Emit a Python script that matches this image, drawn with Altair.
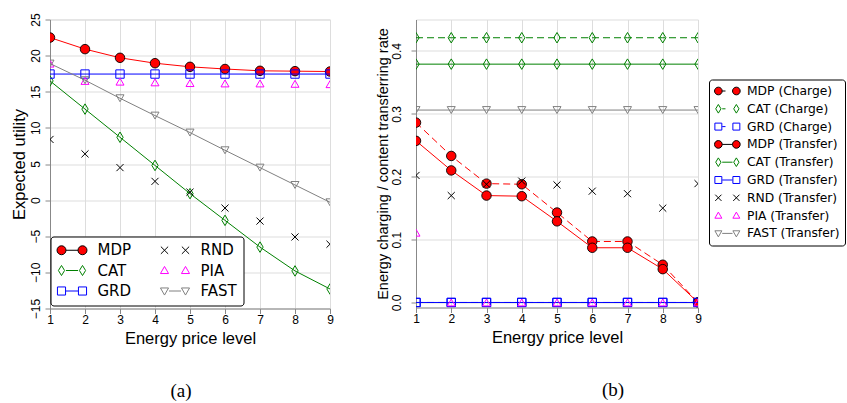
import altair as alt
import pandas as pd

levels = [1, 2, 3, 4, 5, 6, 7, 8, 9]

# ---- panel (a): expected utility ----
utility_mdp = [22.5, 20.9, 19.7, 18.95, 18.45, 18.15, 17.9, 17.85, 17.8]
utility_cat = [16.5, 12.6, 8.7, 4.8, 0.9, -2.8, -6.5, -9.8, -12.3]
utility_grd = [17.45, 17.45, 17.45, 17.45, 17.45, 17.45, 17.45, 17.45, 17.45]
utility_rnd = [8.4, 6.4, 4.5, 2.6, 1.1, -1.1, -2.9, -5.1, -6.1]
utility_pia = [18.9, 16.5, 16.4, 16.3, 16.2, 16.15, 16.15, 16.1, 16.05]
utility_fast = [18.9, 16.6, 14.1, 11.7, 9.35, 6.9, 4.5, 2.1, -0.3]

# ---- panel (b): charging / transferring rate ----
rate_mdp_charge = [0.286, 0.233, 0.189, 0.188, 0.143, 0.097, 0.097, 0.060, 0.0]
rate_cat_charge = [0.421, 0.421, 0.421, 0.421, 0.421, 0.421, 0.421, 0.421, 0.421]
rate_grd_charge = [0.0, 0.0, 0.0, 0.0, 0.0, 0.0, 0.0, 0.0, 0.0]
rate_mdp_transfer = [0.257, 0.210, 0.170, 0.169, 0.129, 0.087, 0.087, 0.053, 0.0]
rate_cat_transfer = [0.379, 0.379, 0.379, 0.379, 0.379, 0.379, 0.379, 0.379, 0.379]
rate_grd_transfer = [0.0, 0.0, 0.0, 0.0, 0.0, 0.0, 0.0, 0.0, 0.0]
rate_rnd_transfer = [0.202, 0.170, 0.188, 0.193, 0.187, 0.177, 0.173, 0.150, 0.189]
rate_pia_transfer = [0.111, 0.0, 0.0, 0.0, 0.0, 0.0, 0.0, 0.0, 0.0]
rate_fast_transfer = [0.306, 0.306, 0.306, 0.306, 0.306, 0.306, 0.306, 0.306, 0.306]

utility_series = {
    "MDP": utility_mdp, "CAT": utility_cat, "GRD": utility_grd,
    "RND": utility_rnd, "PIA": utility_pia, "FAST": utility_fast,
}
rate_series = {
    "MDP (Charge)": rate_mdp_charge, "CAT (Charge)": rate_cat_charge,
    "GRD (Charge)": rate_grd_charge, "MDP (Transfer)": rate_mdp_transfer,
    "CAT (Transfer)": rate_cat_transfer, "GRD (Transfer)": rate_grd_transfer,
    "RND (Transfer)": rate_rnd_transfer, "PIA (Transfer)": rate_pia_transfer,
    "FAST (Transfer)": rate_fast_transfer,
}


def long_df(series):
    rows = []
    for name, vals in series.items():
        for lv, v in zip(levels, vals):
            rows.append({"level": lv, "value": v, "series": name})
    return pd.DataFrame(rows)


df_a = long_df(utility_series)
df_b = long_df(rate_series)

# ---- styles ----
THIN_DIAMOND = "M0,-1L0.6,0L0,1L-0.6,0Z"
X_MARK = "M-1,-1L1,1M-1,1L1,-1"
STYLE = {
    "MDP": dict(line="#ff0000", shape="circle", size=90, fill="#ff0000", stroke="#000000", has_line=True),
    "CAT": dict(line="#008000", shape=THIN_DIAMOND, size=110, fill=None, stroke="#008000", has_line=True),
    "GRD": dict(line="#0000ff", shape="square", size=70, fill=None, stroke="#0000ff", has_line=True),
    "RND": dict(line="#000000", shape=X_MARK, size=50, fill=None, stroke="#000000", has_line=False),
    "PIA": dict(line="#ff00ff", shape="triangle-up", size=64, fill=None, stroke="#ff00ff", has_line=False),
    "FAST": dict(line="#808080", shape="triangle-down", size=64, fill=None, stroke="#808080", has_line=True),
}

# legend glyph geometry (unit = sqrt(symbolSize)/2 px)
C0 = 1.143   # glyph centre offset
HALF = 1.5   # half distance between the two markers
MR = 0.64    # marker radius


def legend_marker(kind, cx):
    if kind == "MDP":
        r = MR
        return f"M{cx - r:.3f},0A{r},{r} 0 1,0 {cx + r:.3f},0A{r},{r} 0 1,0 {cx - r:.3f},0Z"
    if kind == "CAT":
        h, w = 0.72, 0.44
        return f"M{cx:.3f},{-h}L{cx + w:.3f},0L{cx:.3f},{h}L{cx - w:.3f},0Z"
    if kind == "GRD":
        s = 0.58
        return f"M{cx - s:.3f},{-s}L{cx + s:.3f},{-s}L{cx + s:.3f},{s}L{cx - s:.3f},{s}Z"
    if kind == "RND":
        s = 0.52
        return f"M{cx - s:.3f},{-s}L{cx + s:.3f},{s}M{cx - s:.3f},{s}L{cx + s:.3f},{-s}"
    s = 0.58
    if kind == "PIA":
        return f"M{cx:.3f},{-s}L{cx + s:.3f},{s * 0.75:.3f}L{cx - s:.3f},{s * 0.75:.3f}Z"
    return f"M{cx:.3f},{s}L{cx + s:.3f},{-s * 0.75:.3f}L{cx - s:.3f},{-s * 0.75:.3f}Z"


def legend_path(kind, line):
    a, b = C0 - HALF, C0 + HALF
    p = legend_marker(kind, a) + legend_marker(kind, b)
    if line == "solid":
        p += f"M{a + MR:.3f},0L{b - MR:.3f},0"
    elif line == "dash":
        p += f"M{a + MR:.3f},0L{a + MR + 0.55:.3f},0"
    return p


x_enc = alt.X(
    "level:Q",
    scale=alt.Scale(domain=[1, 9], nice=False, zero=False),
    axis=alt.Axis(values=levels, format="d", title="Energy price level",
                  labelFlush=False, labelOverlap=False, labelPadding=1,
                  titlePadding=4.5, titleFontSize=16.5, titleFontWeight="normal", labelFontSize=12),
)


def build_panel(df, order, kinds, dashes, y_enc, legend_order, legend_lines, legend_props, width, height, caption, cap_dx):
    layers = []
    for name in order:
        st = STYLE[kinds[name]]
        base = alt.Chart(df).transform_filter(alt.datum.series == name)
        if st["has_line"]:
            kw = dict(color=st["line"], strokeWidth=1, clip=True)
            if dashes[name]:
                kw["strokeDash"] = [7, 4]
            layers.append(base.mark_line(**kw).encode(x=x_enc, y=y_enc))
        if st["fill"]:
            pm = base.mark_point(shape=st["shape"], size=st["size"], filled=True, fill=st["fill"],
                                 stroke=st["stroke"], strokeWidth=0.9, opacity=1, clip=True)
        else:
            pm = base.mark_point(shape=st["shape"], size=st["size"], filled=False,
                                 color=st["stroke"], strokeWidth=1, opacity=1, clip=True)
        layers.append(pm.encode(x=x_enc, y=y_enc))

    paths = [legend_path(kinds[n], legend_lines[n]) for n in legend_order]
    fills = [STYLE[kinds[n]]["fill"] or "transparent" for n in legend_order]
    strokes = [STYLE[kinds[n]]["stroke"] for n in legend_order]
    leg = alt.Legend(title=None, **legend_props)
    legend_layer = alt.Chart(df).transform_filter("false").mark_point(opacity=1, strokeWidth=1).encode(
        shape=alt.Shape("series:N", scale=alt.Scale(domain=legend_order, range=paths), legend=leg),
        fill=alt.Fill("series:N", scale=alt.Scale(domain=legend_order, range=fills), legend=leg),
        stroke=alt.Stroke("series:N", scale=alt.Scale(domain=legend_order, range=strokes), legend=leg),
    )
    layers.append(legend_layer)
    return alt.layer(*layers).properties(
        width=width, height=height,
        title=alt.TitleParams(text=caption, orient="bottom", anchor="middle", font="Liberation Serif",
                              fontSize=19, fontWeight="normal", color="black", offset=35, dx=cap_dx),
    )


common_legend = dict(labelFont="DejaVu Sans", labelColor="black", fillColor="white",
                     strokeColor="black", cornerRadius=3, symbolStrokeWidth=1, labelLimit=300,
                     orient="none")

# panel (a)
kinds_a = {n: n for n in utility_series}
dashes_a = {n: False for n in utility_series}
lines_a = {"MDP": "solid", "CAT": "solid", "GRD": "solid", "RND": None, "PIA": None, "FAST": "solid"}
y_a = alt.Y("value:Q", scale=alt.Scale(domain=[-15, 25], nice=False, zero=False),
            axis=alt.Axis(values=[-15, -10, -5, 0, 5, 10, 15, 20, 25], title="Expected utility",
                          labelAngle=270, labelPadding=3, titlePadding=2, titleFontSize=16.5,
                          titleFontWeight="normal", labelFontSize=12))
panel_a = build_panel(
    df_a, list(utility_series), kinds_a, dashes_a, y_a,
    ["MDP", "CAT", "GRD", "RND", "PIA", "FAST"], lines_a,
    dict(common_legend, legendX=0.5, legendY=217, columns=2, labelFontSize=15, symbolSize=196,
         rowPadding=4.5, columnPadding=26, labelOffset=26, padding=6),
    280, 289, "(a)", -9,
)

# panel (b)
kinds_b = {n: n.split(" ")[0] for n in rate_series}
dashes_b = {n: "Charge" in n for n in rate_series}
lines_b = {}
for n in rate_series:
    k = kinds_b[n]
    if k in ("RND", "PIA"):
        lines_b[n] = None
    elif "Charge" in n:
        lines_b[n] = "dash"
    else:
        lines_b[n] = "solid"
y_b = alt.Y("value:Q", scale=alt.Scale(domain=[-0.008, 0.45], nice=False, zero=False),
            axis=alt.Axis(values=[0.0, 0.1, 0.2, 0.3, 0.4], format=".1f",
                          title="Energy charging / content transferring rate",
                          labelAngle=270, labelPadding=8, titlePadding=0, titleFontSize=14.5,
                          titleFontWeight="normal", labelFontSize=12))
panel_b = build_panel(
    df_b, list(rate_series), kinds_b, dashes_b, y_b,
    list(rate_series), lines_b,
    dict(common_legend, legendX=293, legendY=60, columns=1, labelFontSize=12.3, symbolSize=144,
         rowPadding=4.8, labelOffset=20, padding=5),
    282, 288, "(b)", 56,
)

chart = alt.hconcat(panel_a, panel_b, spacing=40).resolve_scale(
    shape="independent", fill="independent", stroke="independent",
).properties(
    padding={"left": 10, "top": 11.5, "right": 0, "bottom": 0},
).configure_view(stroke="black", strokeWidth=1).configure_axis(
    grid=True, gridColor="black", gridDash=[1, 2], gridOpacity=0.85, gridWidth=1,
    domain=False, ticks=False, tickSize=0, labelFont="DejaVu Sans", titleFont="DejaVu Sans",
    labelColor="black", titleColor="black", titleFontWeight="normal",
).configure(background="white")

chart.save("out.html", embed_options={"renderer": "svg", "actions": False})
